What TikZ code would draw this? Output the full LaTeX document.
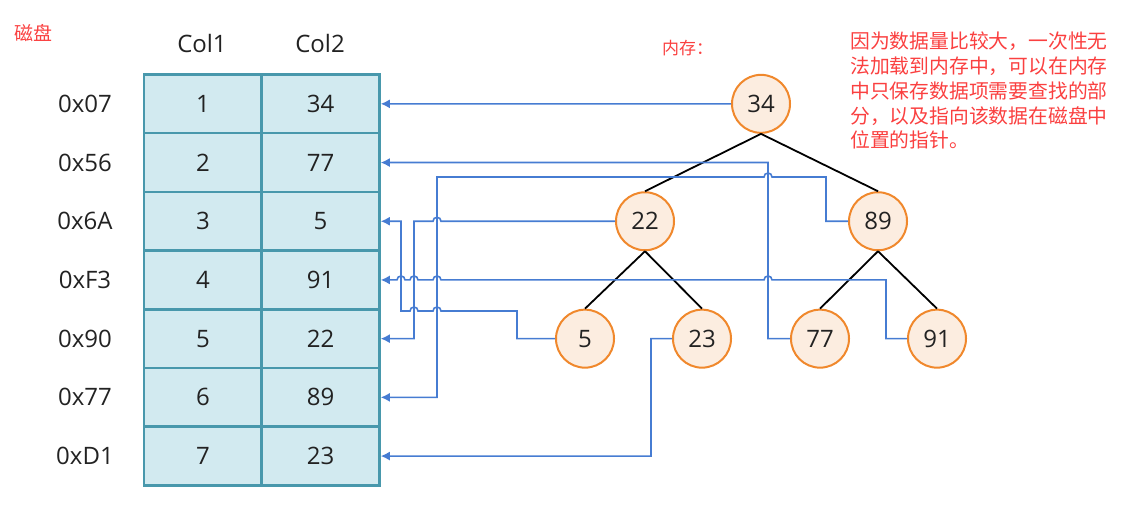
\documentclass[tikz,border=0pt]{standalone}
\usepackage{fontspec}
\setmainfont{Open Sans}
\newfontfamily\cjk{Noto Sans CJK SC}
\usetikzlibrary{arrows.meta}
\definecolor{cellfill}{RGB}{210,234,240}
\definecolor{celldraw}{RGB}{72,152,172}
\definecolor{nodefill}{RGB}{252,237,224}
\definecolor{nodedraw}{RGB}{240,136,44}
\definecolor{linkblue}{RGB}{70,124,210}
\definecolor{notered}{RGB}{250,64,64}
\definecolor{txt}{RGB}{34,34,34}
\tikzset{
  cell/.style={draw=celldraw, fill=cellfill, line width=2.5pt, minimum width=118pt, minimum height=58.7pt, inner sep=0pt, text=txt, font=\fontsize{24}{24}\selectfont},
  lbl/.style={text=txt, inner sep=0pt, font=\fontsize{24}{24}\selectfont},
  tn/.style={circle, draw=nodedraw, fill=nodefill, line width=2pt, minimum size=58pt, inner sep=0pt, text=txt, font=\fontsize{24}{24}\selectfont},
  edge/.style={black, line width=1.8pt},
  conn/.style={linkblue, line width=1.6pt, -{Latex[length=9pt,width=9pt]}},
  note/.style={text=notered, inner sep=0pt}
}
\begin{document}
\begin{tikzpicture}[x=1pt,y=-1pt]
\useasboundingbox (0,0) rectangle (1126,510);
% table
\foreach \i/\a/\b/\l in {1/1/34/0x07,2/2/77/0x56,3/3/5/0x6A,4/4/91/0xF3,5/5/22/0x90,6/6/89/0x77,7/7/23/0xD1}{
  \node[cell] (c1-\i) at (203,{74.5+58.7*(\i-0.5)}) {\a};
  \node[cell] (c2-\i) at (320.5,{74.5+58.7*(\i-0.5)}) {\b};
  \node[lbl] (r\i) at (85,{74.5+58.7*(\i-0.5)}) {\l};
}
\node[lbl] (h1) at (202,44) {Col1};
\node[lbl] (h2) at (320,44) {Col2};
% labels
\node[note, font=\cjk\fontsize{19}{19}\selectfont] (disk) at (33,33) {磁盘};
\node[note, font=\cjk\fontsize{17}{17}\selectfont, anchor=west] (mem) at (662,48) {内存：};
\node[note, font=\cjk\fontsize{19.8}{24.75}\selectfont, anchor=north west, align=left] (para) at (850,32) {因为数据量比较大，一次性无\\法加载到内存中，可以在内存\\中只保存数据项需要查找的部\\分，以及指向该数据在磁盘中\\位置的指针。};
% tree
\node[tn] (n34) at (761,103.85) {34};
\node[tn] (n22) at (645,221.25) {22};
\node[tn] (n89) at (878,221.25) {89};
\node[tn] (n5) at (585,338.65) {5};
\node[tn] (n23) at (702,338.65) {23};
\node[tn] (n77) at (820,338.65) {77};
\node[tn] (n91) at (937,338.65) {91};
\draw[edge] (n34.south) -- (n22.north);
\draw[edge] (n34.south) -- (n89.north);
\draw[edge] (n22.south) -- (n5.north);
\draw[edge] (n22.south) -- (n23.north);
\draw[edge] (n89.south) -- (n77.north);
\draw[edge] (n89.south) -- (n91.north);
% pointers
\draw[conn] (n34.west) -- (c2-1.east);
\draw[conn] (n77.west) -| (768,162.55) -- (c2-2.east);
\draw[conn] (n89.west) -| (826,177) -- (772,177) arc[start angle=0,end angle=180,radius=4pt] -- (437,177) |- (c2-6.east);
\draw[conn] (n22.west) -- (441,221.25) arc[start angle=0,end angle=180,radius=4pt] -- (414,221.25) |- (c2-5.east);
\draw[conn] (n5.west) -| (517,311) -- (441,311) arc[start angle=0,end angle=180,radius=4pt] -- (418,311) arc[start angle=0,end angle=180,radius=4pt] -- (401,311) |- (c2-3.east);
\draw[conn] (n91.west) -| (886,279.95) -- (772,279.95) arc[start angle=0,end angle=180,radius=4pt] -- (441,279.95) arc[start angle=0,end angle=180,radius=4pt] -- (418,279.95) arc[start angle=0,end angle=180,radius=4pt] -- (405,279.95) arc[start angle=0,end angle=180,radius=4pt] -- (c2-4.east);
\draw[conn] (n23.west) -| (651,456.05) -- (c2-7.east);
\end{tikzpicture}
\end{document}
